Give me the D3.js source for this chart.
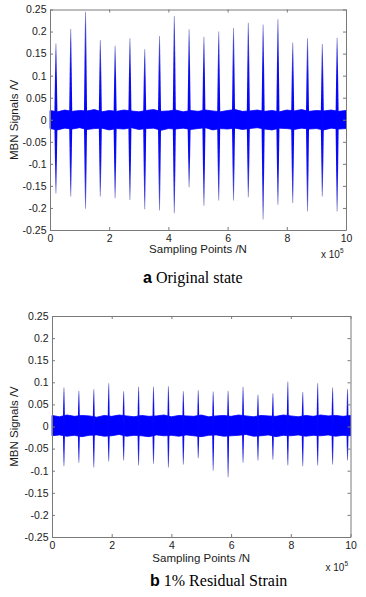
<!DOCTYPE html>
<html>
<head>
<meta charset="utf-8">
<script src="https://cdn.jsdelivr.net/npm/d3@7"></script>
<style>
  body { margin: 0; background: #fff; }
  svg { display: block; font-family: "Liberation Sans", Arial, sans-serif; }
</style>
</head>
<body>
<script>
const xTicks = [0, 2, 4, 6, 8, 10];
const yTicks = [0.25, 0.2, 0.15, 0.1, 0.05, 0, -0.05, -0.1, -0.15, -0.2, -0.25];
const yTickLabels = ["0.25", "0.2", "0.15", "0.1", "0.05", "0", "-0.05", "-0.1", "-0.15", "-0.2", "-0.25"];

// (a) original state -- burst positions in x10^5 samples, peak / trough in V
const burstPosA = [0.2, 0.7, 1.2, 1.7, 2.2, 2.7, 3.2, 3.7, 4.2, 4.7, 5.2, 5.7, 6.2, 6.7, 7.2, 7.7, 8.2, 8.7, 9.2, 9.7];
const peakA = [0.173, 0.206, 0.245, 0.181, 0.168, 0.185, 0.160, 0.190, 0.235, 0.205,
               0.188, 0.200, 0.208, 0.220, 0.216, 0.228, 0.175, 0.185, 0.172, 0.186];
const troughA = [-0.167, -0.174, -0.202, -0.174, -0.178, -0.182, -0.203, -0.206, -0.212, -0.153,
                 -0.195, -0.183, -0.183, -0.176, -0.226, -0.193, -0.189, -0.208, -0.174, -0.208];
// background noise envelope
const noiseTopA = [0.021, 0.018, 0.022, 0.019, 0.021, 0.020, 0.023, 0.018, 0.021, 0.019, 0.022, 0.020, 0.018, 0.021,
                   0.023, 0.019, 0.020, 0.022, 0.018, 0.021, 0.019, 0.022, 0.020, 0.018, 0.021, 0.023, 0.019, 0.020,
                   0.022, 0.019, 0.021, 0.018, 0.022, 0.020, 0.023, 0.019, 0.021, 0.020, 0.022, 0.019, 0.021];
const noiseBotA = [-0.020, -0.023, -0.019, -0.021, -0.018, -0.022, -0.020, -0.019, -0.023, -0.020, -0.021, -0.018, -0.022, -0.020,
                   -0.019, -0.024, -0.020, -0.021, -0.019, -0.022, -0.020, -0.018, -0.023, -0.020, -0.021, -0.019, -0.022, -0.020,
                   -0.018, -0.021, -0.023, -0.019, -0.020, -0.022, -0.019, -0.021, -0.020, -0.023, -0.019, -0.021, -0.020];

// (b) 1% residual strain
const burstPosB = [0.4, 0.9, 1.4, 1.9, 2.4, 2.9, 3.4, 3.9, 4.4, 4.9, 5.4, 5.9, 6.4, 6.9, 7.4, 7.9, 8.4, 8.9, 9.4, 9.9];
const peakB = [0.088, 0.081, 0.084, 0.098, 0.080, 0.090, 0.090, 0.091, 0.080, 0.082,
               0.079, 0.081, 0.090, 0.072, 0.075, 0.102, 0.078, 0.098, 0.088, 0.085];
const troughB = [-0.090, -0.082, -0.093, -0.079, -0.077, -0.088, -0.084, -0.093, -0.086, -0.072,
                 -0.100, -0.115, -0.082, -0.077, -0.075, -0.088, -0.090, -0.088, -0.086, -0.077];
const noiseTopB = [0.025, 0.022, 0.026, 0.023, 0.025, 0.024, 0.021, 0.025, 0.023, 0.026, 0.024, 0.022, 0.025, 0.023,
                   0.024, 0.026, 0.022, 0.025, 0.024, 0.023, 0.026, 0.022, 0.024, 0.025, 0.023, 0.026, 0.024, 0.022,
                   0.025, 0.024, 0.023, 0.026, 0.024, 0.022, 0.025, 0.023, 0.026, 0.024, 0.025, 0.023, 0.025];
const noiseBotB = [-0.021, -0.019, -0.022, -0.020, -0.023, -0.020, -0.019, -0.022, -0.021, -0.018, -0.022, -0.020, -0.021, -0.023,
                   -0.019, -0.021, -0.020, -0.022, -0.019, -0.021, -0.023, -0.020, -0.019, -0.022, -0.021, -0.020, -0.018,
                   -0.022, -0.021, -0.019, -0.023, -0.020, -0.021, -0.019, -0.022, -0.020, -0.021, -0.019, -0.022, -0.020, -0.021];

const W = 366, H = 597;
const svg = d3.select("body").append("svg").attr("width", W).attr("height", H);

// fading gradients for the burst lines
const defs = svg.append("defs");
function fade(id, y1, y2) {
  const gr = defs.append("linearGradient").attr("id", id).attr("x1", 0).attr("y1", y1).attr("x2", 0).attr("y2", y2);
  gr.append("stop").attr("offset", "0%").attr("stop-color", "#0000ff");
  gr.append("stop").attr("offset", "55%").attr("stop-color", "#1010f0");
  gr.append("stop").attr("offset", "85%").attr("stop-color", "#4a4ad8");
  gr.append("stop").attr("offset", "100%").attr("stop-color", "#9a9acc");
}
fade("fadeUp", 1, 0);
fade("fadeDown", 0, 1);

function drawPanel(cfg) {
  const x = d3.scaleLinear().domain([0, 10]).range([cfg.left, cfg.right]);
  const y = d3.scaleLinear().domain([-0.25, 0.25]).range([cfg.bottom, cfg.top]);
  const g = svg.append("g");

  // noise band
  const idx = d3.scalePoint().domain(d3.range(cfg.noiseTop.length)).range([x(0), x(10)]);
  const band = d3.area()
    .x((d, i) => idx(i))
    .y0((d, i) => y(cfg.noiseBot[i]))
    .y1(d => y(d));
  g.append("path").datum(cfg.noiseTop)
    .attr("d", band)
    .attr("fill", "#0000ff")
    .attr("stroke", "#0000ff")
    .attr("stroke-width", 0.8);

  const bursts = cfg.pos.map((p, i) => ({ p, hi: cfg.peak[i], lo: cfg.trough[i] }));

  // each burst as a tapered sliver: wide at the baseline, thin at the tip
  const sliver = (xc, v) => {
    const y0 = y(0), y1 = y(v);
    return `M${xc - cfg.base / 2},${y0}L${xc - cfg.tip / 2},${y1}L${xc + cfg.tip / 2},${y1}L${xc + cfg.base / 2},${y0}Z`;
  };
  g.selectAll(null).data(bursts).join("path")
    .attr("d", d => sliver(x(d.p), d.hi))
    .attr("fill", "url(#fadeUp)");
  g.selectAll(null).data(bursts).join("path")
    .attr("d", d => sliver(x(d.p), d.lo))
    .attr("fill", "url(#fadeDown)");

  // axes (MATLAB style box, ticks inward)
  const axisColor = "#7a7a7a";
  const style = sel => {
    sel.select(".domain").attr("stroke", axisColor);
    sel.selectAll(".tick line").attr("stroke", axisColor);
    sel.selectAll(".tick text").attr("fill", "#1a1a1a")
      .style("font-family", '"Liberation Sans", Arial, sans-serif').style("font-size", "10.5px");
  };
  g.append("g").attr("transform", `translate(0,${cfg.bottom})`)
    .call(d3.axisBottom(x).tickValues(xTicks).tickFormat(d3.format("d")).tickSize(-3).tickSizeOuter(0).tickPadding(4.5))
    .call(style);
  g.append("g").attr("transform", `translate(0,${cfg.top})`)
    .call(d3.axisTop(x).tickValues(xTicks).tickFormat("").tickSize(-3).tickSizeOuter(0))
    .call(style);
  g.append("g").attr("transform", `translate(${cfg.left},0)`)
    .call(d3.axisLeft(y).tickValues(yTicks).tickFormat((d, i) => yTickLabels[i]).tickSize(-3).tickSizeOuter(0).tickPadding(3.5))
    .call(style);
  g.append("g").attr("transform", `translate(${cfg.right},0)`)
    .call(d3.axisRight(y).tickValues(yTicks).tickFormat("").tickSize(-3).tickSizeOuter(0))
    .call(style);

  // axis titles
  g.append("text")
    .attr("transform", `translate(18,${(cfg.top + cfg.bottom) / 2}) rotate(-90)`)
    .attr("text-anchor", "middle")
    .style("font-size", "11.5px").attr("fill", "#1a1a1a")
    .text("MBN Signals /V");
  g.append("text")
    .attr("x", (cfg.left + cfg.right) / 2).attr("y", cfg.xTitleY)
    .attr("text-anchor", "middle")
    .style("font-size", "11.5px").attr("fill", "#1a1a1a")
    .text("Sampling Points /N");

  const ex = g.append("text")
    .attr("x", cfg.right - 25).attr("y", cfg.expY)
    .style("font-size", "10px").attr("fill", "#1a1a1a");
  ex.append("tspan").text("x 10");
  ex.append("tspan").attr("dy", -5).style("font-size", "6.5px").text("5");

  // caption
  const cap = g.append("text").attr("x", cfg.capX).attr("y", cfg.capY).attr("fill", "#000");
  cap.append("tspan").style("font-family", '"Liberation Sans", Arial, sans-serif')
    .style("font-weight", "bold").style("font-size", "16px").text(cfg.letter);
  cap.append("tspan").style("font-family", '"Liberation Serif", "Times New Roman", serif')
    .style("font-size", "16px").text("\u00a0" + cfg.caption);
}

drawPanel({
  left: 50, right: 346, top: 9.5, bottom: 230,
  pos: burstPosA, peak: peakA, trough: troughA,
  noiseTop: noiseTopA, noiseBot: noiseBotA,
  base: 3.2, tip: 0.9,
  xTitleY: 253, expY: 258,
  capX: 143, capY: 283, letter: "a", caption: "Original state"
});

drawPanel({
  left: 52, right: 350.5, top: 316, bottom: 537,
  pos: burstPosB, peak: peakB, trough: troughB,
  noiseTop: noiseTopB, noiseBot: noiseBotB,
  base: 2.2, tip: 0.9,
  xTitleY: 561.5, expY: 571,
  capX: 150, capY: 585.5, letter: "b", caption: "1% Residual Strain"
});
</script>
</body>
</html>
